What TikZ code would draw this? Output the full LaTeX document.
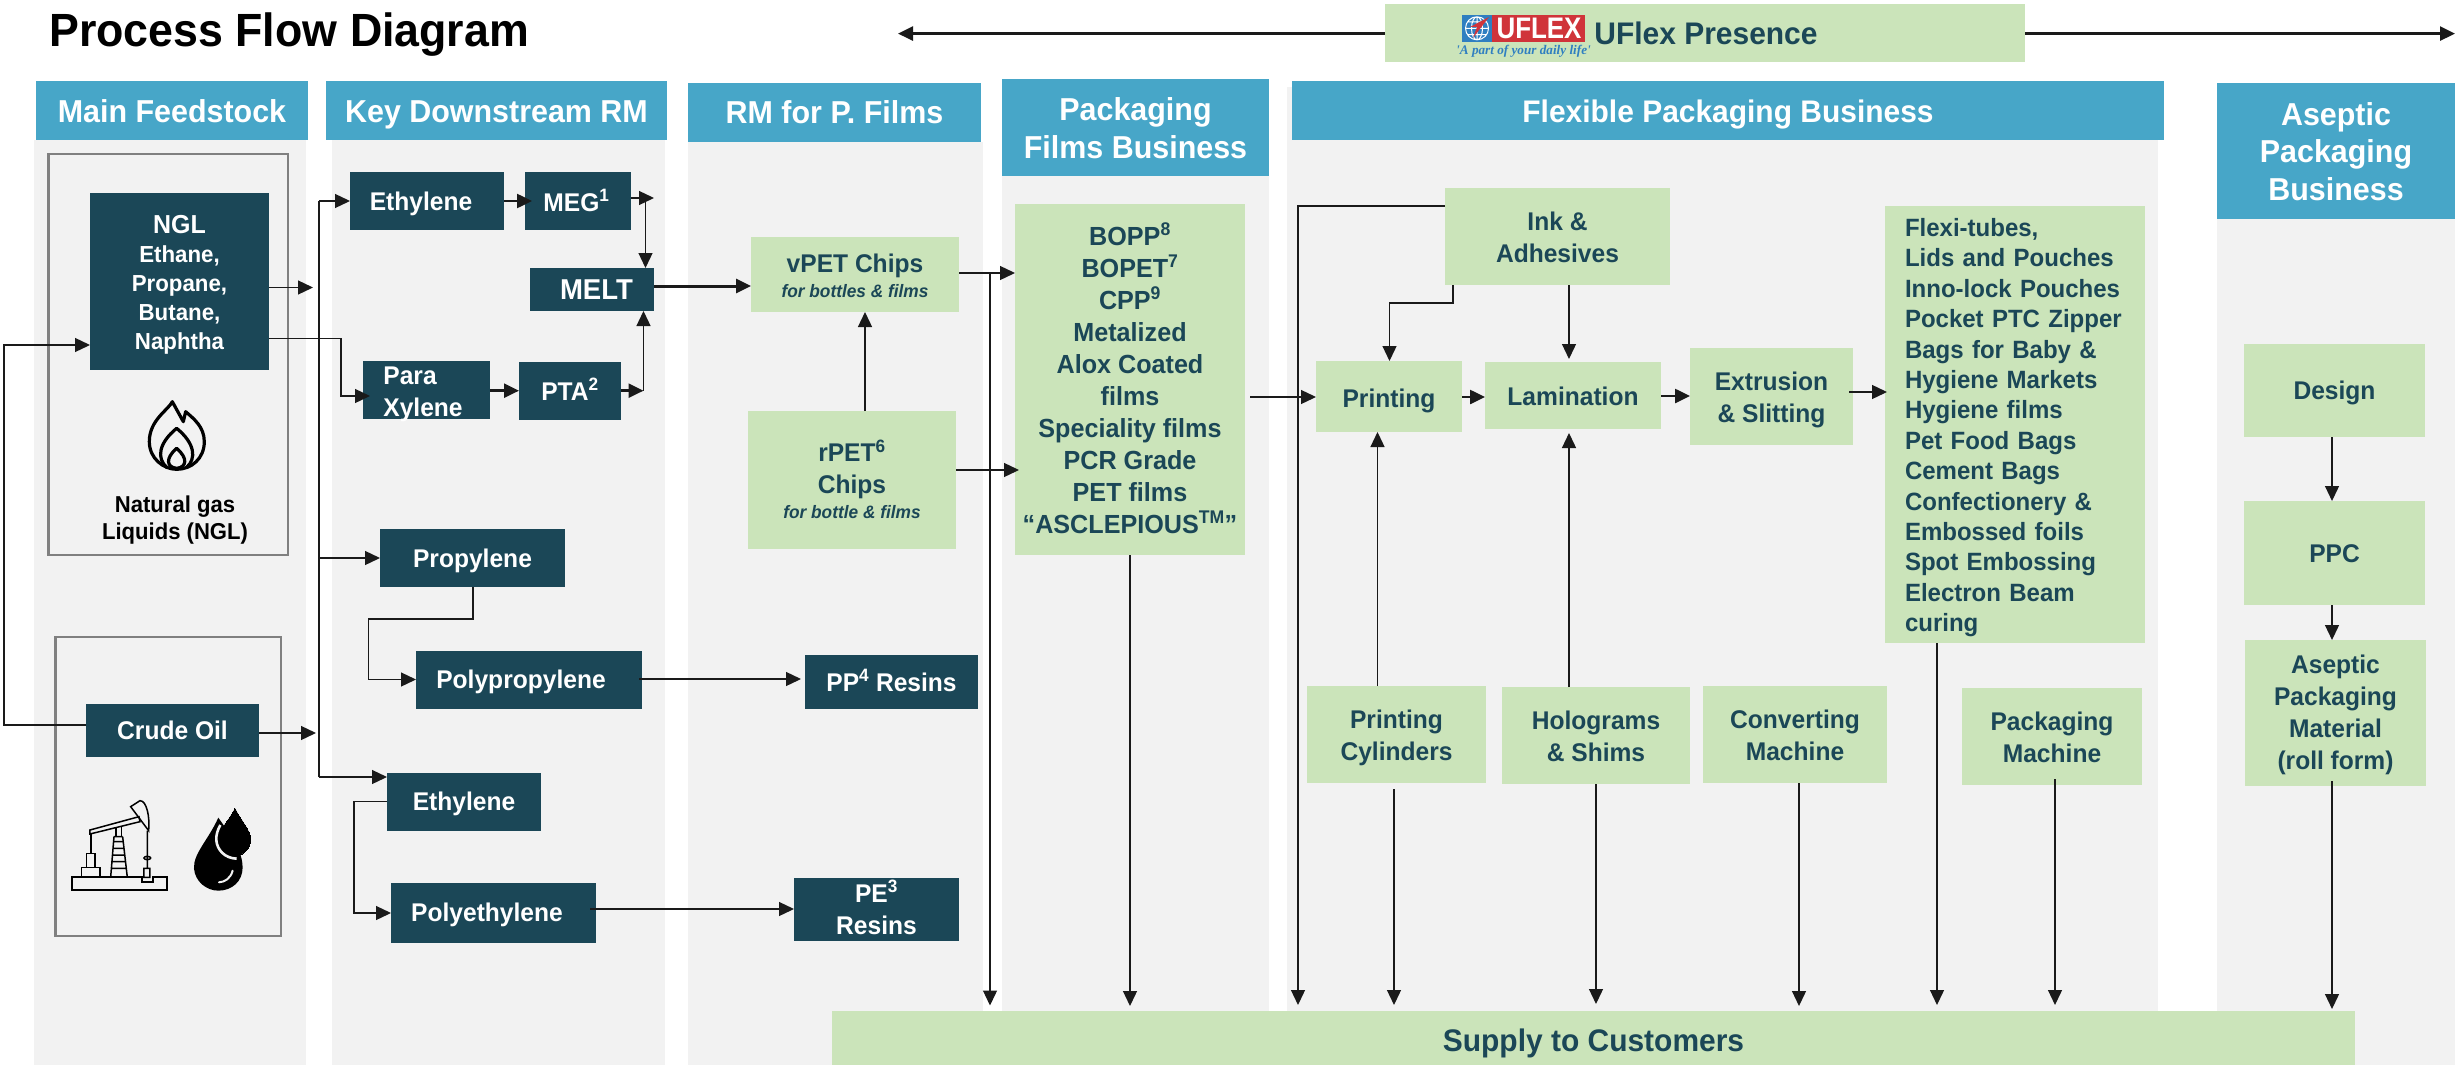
\documentclass[tikz,border=0pt]{standalone}
\usepackage{fontspec}
\usepackage{graphicx}
\setmainfont{Liberation Sans}[FakeStretch=0.96]
\newfontfamily\tagfont{Liberation Serif}
\usetikzlibrary{arrows.meta,calc}
\definecolor{hdblue}{HTML}{47A6C8}
\definecolor{dkteal}{HTML}{1B4757}
\definecolor{ltgreen}{HTML}{CBE4BA}
\definecolor{colgray}{HTML}{F2F2F2}
\definecolor{brdgray}{HTML}{808080}
\definecolor{linek}{HTML}{1A1A1A}
\definecolor{logoblue}{HTML}{2F7FC1}
\definecolor{logored}{HTML}{D0343A}
\newcommand{\fsz}[2]{\fontsize{#1}{#2}\selectfont}
\newcommand{\Ls}[1]{\hspace*{#1pt}}
\newcommand{\su}[1]{\textsuperscript{#1}}
\tikzset{
 boxbase/.style={rectangle,inner sep=0pt,outer sep=0pt,draw=none},
 hd/.style={boxbase,fill=hdblue,text=white,align=center,font=\bfseries\fsz{31.7}{37.5}},
 col/.style={boxbase,fill=colgray},
 dk/.style={boxbase,fill=dkteal,text=white,align=center,font=\bfseries\fsz{25.6}{32}},
 gr/.style={boxbase,fill=ltgreen,text=dkteal,align=center,font=\bfseries\fsz{25.6}{32}},
 frame/.style={boxbase,draw=brdgray,line width=2.6pt},
 bl/.code={\pgfmathsetmacro\bldiff{#1-\cyy}\pgfmathsetmacro\bltwo{abs(2*\bldiff)}%
   \ifdim\bldiff pt>0pt \tikzset{text depth=0pt,text height=\bltwo pt}\else\tikzset{text height=0pt,text depth=\bltwo pt}\fi},
 ln/.style={draw=linek,line width=1.3pt},
 arr/.style={ln,-{Triangle[length=15pt,width=14pt]}},
 tk/.style={draw=linek,line width=2.5pt,-{Triangle[length=15pt,width=14pt]}},
 icon/.style={draw=black,line width=3.2pt,line join=round,line cap=round},
 rig/.style={draw=black,line width=1.5pt,line join=miter},
}
\newcommand{\bxx}[7]{%
 \pgfmathsetmacro\cxx{(#3+#5)/2}\pgfmathsetmacro\cyy{(#4+#6)/2}%
 \pgfmathsetmacro\wwd{#5-#3}\pgfmathsetmacro\hgt{#6-#4}%
 \node[minimum width=\wwd pt,minimum height=\hgt pt,#1] (#2) at (\cxx,\cyy) {#7};}
\newcommand{\bx}[7][]{\bxx{#1}{#2}{#3}{#4}{#5}{#6}{#7}}
\begin{document}
\begin{tikzpicture}[x=1pt,y=-1pt]
\useasboundingbox (0,0) rectangle (2463,1065);
% columns
\bx[col]{col1}{34}{140}{306}{1065}{}
\bx[col]{col2}{332}{140}{665}{1065}{}
\bx[col]{col3}{688}{142}{983}{1065}{}
\bx[col]{col4}{1002}{176}{1269}{1065}{}
\bx[col]{col5}{1287}{87}{2158}{1065}{}
\bx[col]{col6}{2217}{219}{2455}{1065}{}
% headers
\bx[hd,bl=122]{hmain}{36}{81}{308}{140}{Main Feedstock}
\bx[hd,bl=122]{hkey}{326}{81}{667}{140}{Key Downstream RM}
\bx[hd,bl=123]{hrm}{688}{83}{981}{142}{RM for P. Films}
\bx[hd,bl=158]{hfilm}{1002}{79}{1269}{176}{Packaging\\Films Business}
\bx[hd,bl=122,font=\bfseries\fsz{31.2}{37.5}]{hflex}{1292}{81}{2164}{140}{Flexible Packaging Business}
\bx[hd,bl=200]{hasep}{2217}{83}{2455}{219}{Aseptic\\Packaging\\Business}
% title
\node[anchor=base west,inner sep=0pt,text=black,font=\bfseries\fsz{46.6}{55}] (title) at (49,46.4) {Process Flow Diagram};
% frames
\bx[frame]{fngl}{48.5}{154}{288}{555}{}
\bx[frame]{fcrude}{55.5}{637}{281}{936}{}
% dark nodes
\bx[dk,bl=349,font=\bfseries\fsz{23.2}{29}]{ngl}{90}{193}{269}{370}{{\fsz{26}{29}NGL}\\Ethane,\\Propane,\\Butane,\\Naphtha}
\bx[dk,bl=210]{ethA}{350}{172}{504}{230}{Ethylene\Ls{12}}
\bx[dk,bl=211]{meg}{525}{172}{631}{230}{MEG\su{1}\Ls{3}}
\bx[dk,bl=299,font=\bfseries\fsz{28.7}{32}]{melt}{530}{268}{654}{311}{\Ls{9}MELT}
\bx[dk,bl=416,align=left]{para}{363}{361}{490}{419}{Para\\Xylene\Ls{7}}
\bx[dk,bl=400]{pta}{519}{362}{621}{420}{PTA\su{2}}
\bx[dk,bl=567]{prop}{380}{529}{565}{587}{Propylene}
\bx[dk,bl=688.6]{ppl}{416}{651}{642}{709}{Polypropylene\Ls{16}}
\bx[dk,bl=691]{ppr}{805}{655}{978}{709}{PP\su{4} Resins}
\bx[dk,bl=739]{crude}{86}{704}{259}{757}{Crude Oil}
\bx[dk,bl=810]{ethB}{387}{773}{541}{831}{Ethylene}
\bx[dk,bl=921]{pel}{391}{883}{596}{943}{Polyethylene\Ls{13}}
\bx[dk,bl=934]{per}{794}{878}{959}{941}{PE\su{3}\\Resins}
% green nodes
\bx[gr,bl=297,font=\bfseries\fsz{25.6}{25}]{vpet}{751}{237}{959}{312}{vPET Chips\\{\itshape\fsz{18}{25}for bottles \& films}}
\bx[gr,bl=518]{rpet}{748}{411}{956}{549}{rPET\su{6}\\Chips\\[-7.5pt]{\itshape\fsz{18}{25}for bottle \& films}}
\bx[gr,bl=533,font=\bfseries\fsz{26.2}{32}]{films}{1015}{204}{1245}{555}{BOPP\su{8}\\BOPET\su{7}\\CPP\su{9}\\Metalized\\Alox Coated\\films\\Speciality films\\PCR Grade\\PET films\\“ASCLEPIOUS\su{TM}”}
\bx[gr,bl=262]{ink}{1445}{188}{1670}{285}{Ink \&\\Adhesives}
\bx[gr,bl=407]{printg}{1316}{361}{1462}{432}{Printing}
\bx[gr,bl=405]{lam}{1485}{362}{1661}{429}{Lamination}
\bx[gr,bl=422]{extr}{1690}{348}{1853}{445}{Extrusion\\\& Slitting}
\bx[gr,bl=236.4,align=left,text width=220pt,font=\bfseries\fsz{25}{30.4}]{flexi}{1885}{206}{2145}{643}{Flexi-tubes,\\Lids and Pouches\\Inno-lock Pouches\\Pocket PTC Zipper\\Bags for Baby \&\\Hygiene Markets\\Hygiene films\\Pet Food Bags\\Cement Bags\\Confectionery \&\\Embossed foils\\Spot Embossing\\Electron Beam\\curing}
\bx[gr,bl=399]{design}{2244}{344}{2425}{437}{Design}
\bx[gr,bl=562]{ppc}{2244}{501}{2425}{605}{PPC}
\bx[gr,bl=769.6]{amat}{2245}{640}{2426}{786}{Aseptic\\Packaging\\Material\\(roll form)}
\bx[gr,bl=760]{pcyl}{1307}{686}{1486}{783}{Printing\\Cylinders}
\bx[gr,bl=761]{holo}{1502}{687}{1690}{784}{Holograms\\\& Shims}
\bx[gr,bl=760]{conv}{1703}{686}{1887}{783}{Converting\\Machine}
\bx[gr,bl=762]{pkgm}{1962}{688}{2142}{785}{Packaging\\Machine}
\bx[gr,bl=1051,font=\bfseries\fsz{31.2}{36}]{supply}{832}{1011}{2355}{1065}{Supply to Customers}
\bx[gr,bl=45,text=dkteal,font=\bfseries\fsz{31.2}{36}]{uflex}{1385}{4}{2025}{62.5}{\Ls{2}UFlex Presence}
% NGL caption
\node[inner sep=0pt,text=black,align=center,font=\bfseries\fsz{23}{27}] (nglcap) at (175,520) {Natural gas\\Liquids (NGL)};
% logo
\fill[logoblue] (1462,15) rectangle (1492,41.7);
\fill[logored] (1492,15) rectangle (1585,41.7);
\draw[white,line width=1pt] (1477,28.3) circle (11.5) (1465.5,28.3) -- (1488.5,28.3) (1477,16.8) -- (1477,39.8) (1477,28.3) ellipse (5.5 and 11.5) (1467,22) -- (1487,22) (1467,34.6) -- (1487,34.6);
\fill[logored] (1489,17) -- (1473,38) -- (1477,27) -- (1470,27) -- cycle;
\node[inner sep=0pt,text=white,font=\bfseries\fsz{27}{27}] (logotx) at (1539,28.3) {\scalebox{1}[1.1]{UFLEX}};
\node[inner sep=0pt,text=logoblue,font=\tagfont\itshape\bfseries\fsz{13.2}{14}] (logotg) at (1523.5,51.5) {'A part of your daily life'};
% flame icon
\begin{scope}[shift={(40,380)},x=0.3333pt,y=-0.3333pt]
 \draw[icon] (397,65) .. controls (385,90) and (328,120) .. (328,185) .. controls (328,235) and (370,268) .. (410,268) .. controls (455,268) and (493,235) .. (493,185) .. controls (493,140) and (460,115) .. (437,95) -- (430,125) -- cycle;
 \draw[icon] (380,262) .. controls (350,235) and (355,190) .. (410,145) .. controls (465,190) and (470,235) .. (440,262);
 \draw[icon] (410,205) .. controls (375,235) and (380,262) .. (410,265) .. controls (440,262) and (445,235) .. (410,205);
\end{scope}
% pump jack and drops
\begin{scope}[shift={(40,780)},x=0.3333pt,y=-0.3333pt]
 \draw[rig,line width=2pt] (97,292) -- (305,292) -- (305,307) -- (338,307) -- (338,292) -- (382,292) -- (382,330) -- (97,330) -- cycle;
 \draw[rig] (150,150) -- (297,110) -- (300,125) -- (150,162) -- cycle;
 \draw[rig] (272,80) -- (300,62) .. controls (320,62) and (330,110) .. (326,152) -- cycle;
 \draw[rig] (228,142) -- (228,170) (245,142) -- (245,170);
 \draw[rig] (222,170) -- (212,292) (248,170) -- (262,292) (222,170) -- (248,170) (219,185) -- (251,185) (218,205) -- (253,205) (216,225) -- (256,225) (214,245) -- (258,245) (212,265) -- (260,265);
 \draw[rig] (153,160) -- (153,220) (140,220) rectangle (165,262) (125,262) rectangle (180,292);
 \draw[rig] (322,152) -- (322,265) (322,234) ellipse (10 and 5) (312,265) rectangle (330,292);
 \fill[black] (535,113) .. controls (505,180) and (460,220) .. (462,265) .. controls (465,305) and (500,332) .. (535,332) .. controls (575,332) and (608,305) .. (608,262) .. controls (608,215) and (575,170) .. (535,113) -- cycle;
 \draw[black,fill=black,line width=0pt] (585,85) .. controls (565,125) and (535,150) .. (535,178) .. controls (535,205) and (560,228) .. (585,228) .. controls (610,228) and (632,205) .. (632,178) .. controls (632,150) and (605,125) .. (585,85) -- cycle;
 \draw[colgray,line width=2.6pt] (541,135) .. controls (533,150) and (528,165) .. (529,180) .. controls (531,210) and (555,235) .. (590,236);
 \draw[colgray,line width=2pt,line cap=round] (537,307) .. controls (555,306) and (572,295) .. (578,272);
\end{scope}
% connectors: Feedstock to downstream
\coordinate (busnA) at (313,287.5);
\coordinate (busT) at (319,201);
\coordinate (busB) at (319,777);
\coordinate (busC) at (316,733);
\draw[arr] (ngl.east |- busnA) -- (busnA);
\draw[arr] (crude.east |- busC) -- (busC);
\draw[ln] (busB) -- (busT);
\draw[arr] (busT) -- (ethA.west |- busT);
\draw[arr] (319,558) -- (prop.west |- 0,558);
\draw[arr] (busB) -- (ethB.west |- busB);
\draw[arr] (ngl.east |- 0,338.6) -- (341,338.6) -- (341,396) -- ([xshift=7pt]para.west |- 0,396);
\draw[arr] (crude.west |- 0,725) -- (4,725) -- (4,345) -- (ngl.west |- 0,345);
\draw[tk] (ethA.east |- 0,201) -- ([xshift=7pt]meg.west |- 0,201);
\coordinate (megR) at (654,198);
\draw[arr] (meg.east |- megR) -- (megR);
\draw[arr] (645.5,198) -- (645.5,0 |- melt.north);
\draw[tk] (para.east |- 0,390.7) -- (pta.west |- 0,390.7);
\coordinate (ptaR) at (643.5,390.7);
\draw[tk] (pta.east |- ptaR) -- (ptaR);
\draw[arr] (ptaR) -- (643.5,0 |- melt.south);
\draw[tk,line width=3pt] (melt.east |- 0,286) -- (vpet.west |- 0,286);
\draw[arr] (865,0 |- rpet.north) -- (865,0 |- vpet.south);
\draw[arr] (vpet.east |- 0,273) -- (films.west |- 0,273);
\draw[arr] (rpet.east |- 0,470) -- ([xshift=4pt]films.west |- 0,470);
\coordinate (dropA) at (990,273);
\draw[arr] (dropA) -- (990,1005.5);
\draw[arr] (1130,0 |- films.south) -- (1130,1006);
\draw[arr] ([xshift=5pt]films.east |- 0,397) -- (printg.west |- 0,397);
\draw[arr] (ink.west |- 0,206) -- (1298,206) -- (1298,1005);
\draw[arr] (1453,0 |- ink.south) -- (1453,303) -- (1389.5,303) -- (1389.5,0 |- printg.north);
\draw[arr] (1569,0 |- ink.south) -- (1569,359);
\draw[tk] (printg.east |- 0,397) -- (lam.west |- 0,397);
\draw[tk] (lam.east |- 0,396) -- (extr.west |- 0,396);
\draw[arr] ([xshift=-4pt]extr.east |- 0,392) -- ([xshift=2pt]flexi.west |- 0,392);
\draw[arr] (1377.5,0 |- pcyl.north) -- (1377.5,432);
\draw[arr] (1569,0 |- holo.north) -- (1569,433);
\draw[arr] (1394,789) -- (1394,1005);
\draw[arr] (1596,0 |- holo.south) -- (1596,1004);
\draw[arr] (1799,0 |- conv.south) -- (1799,1006);
\draw[arr] (1937,0 |- flexi.south) -- (1937,1005);
\draw[arr] (2055,779) -- (2055,1005);
\draw[arr] (2332,781) -- (2332,1009);
\draw[arr] (2332,0 |- design.south) -- (2332,0 |- ppc.north);
\draw[arr] (2332,0 |- ppc.south) -- (2332,0 |- amat.north);
\draw[arr] (473,0 |- prop.south) -- (473,619) -- (368.6,619) -- (368.6,679.5) -- (ppl.west |- 0,679.5);
\draw[arr] ([xshift=-3pt]ppl.east |- 0,679) -- ([xshift=-4pt]ppr.west |- 0,679);
\draw[arr] (ethB.west |- 0,801.5) -- (354,801.5) -- (354,913) -- (pel.west |- 0,913);
\draw[arr] ([xshift=-6pt]pel.east |- 0,909) -- (per.west |- 0,909);
\draw[tk] (uflex.west |- 0,33.6) -- (898,33.6);
\draw[tk] (uflex.east |- 0,33.6) -- (2455,33.6);
\end{tikzpicture}
\end{document}
